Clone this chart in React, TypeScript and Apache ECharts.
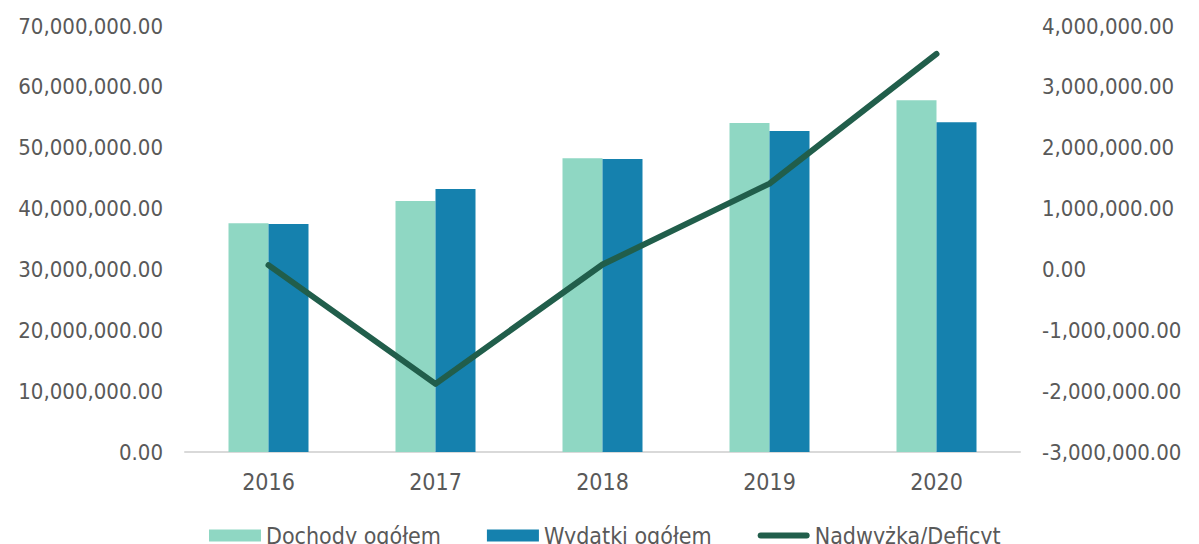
import React, { useEffect, useRef } from "react";
import * as echarts from "echarts";

const categories = ["2016", "2017", "2018", "2019", "2020"];
const dochody = [37580000, 41240000, 48250000, 54060000, 57800000];
const wydatki = [37460000, 43200000, 48150000, 52740000, 54200000];
const saldo = [70000, -1880000, 80000, 1410000, 3540000];
const seriesNames = ["Dochody ogółem", "Wydatki ogółem", "Nadwyżka/Deficyt"];

const FONT = "'DejaVu Sans Condensed', 'DejaVu Sans', sans-serif";

function fmt(v: number): string {
  const neg = v < 0;
  const a = Math.abs(v);
  const s = a.toFixed(2);
  const [i, d] = s.split(".");
  const withCommas = i.replace(/\B(?=(\d{3})+(?!\d))/g, ",");
  return (neg ? "-" : "") + withCommas + "." + d;
}

export default function App() {
  const ref = useRef<HTMLDivElement>(null);
  useEffect(() => {
    if (!ref.current) return;
    const chart = echarts.init(ref.current, null, { renderer: "svg" });
    chart.setOption({
      animation: false,
      textStyle: { fontFamily: FONT },
      grid: {
        left: 185,
        right: 179,
        top: 26,
        bottom: 92,
        containLabel: false,
        outerBoundsMode: "none",
      },
      legend: {
        left: 204,
        top: 519,
        itemWidth: 52,
        itemHeight: 12,
        itemGap: 46,
        textStyle: { fontFamily: FONT, fontSize: 23, color: "#595959" },
        data: [
          { name: seriesNames[0], icon: "rect" },
          { name: seriesNames[1], icon: "rect" },
          {
            name: seriesNames[2],
            icon: "path://M3,0 L49,0 A3,3 0 0 1 49,6 L3,6 A3,3 0 0 1 3,0 Z",
          },
        ],
      },
      xAxis: {
        type: "category",
        data: categories,
        axisTick: { show: false },
        axisLine: { lineStyle: { color: "#d9d9d9", width: 2 } },
        axisLabel: {
          color: "#595959",
          fontSize: 23,
          fontFamily: FONT,
          margin: 18,
        },
      },
      yAxis: [
        {
          type: "value",
          min: 0,
          max: 70000000,
          interval: 10000000,
          splitLine: { show: false },
          axisLine: { show: false },
          axisTick: { show: false },
          axisLabel: {
            color: "#595959",
            fontSize: 22,
            fontFamily: FONT,
            margin: 22,
            formatter: (v: number) => fmt(v),
          },
        },
        {
          type: "value",
          min: -3000000,
          max: 4000000,
          interval: 1000000,
          splitLine: { show: false },
          axisLine: { show: false },
          axisTick: { show: false },
          axisLabel: {
            color: "#595959",
            fontSize: 22,
            fontFamily: FONT,
            margin: 22,
            formatter: (v: number) => fmt(v),
          },
        },
      ],
      series: [
        {
          name: seriesNames[0],
          type: "bar",
          data: dochody,
          barWidth: 40,
          barGap: "0%",
          itemStyle: { color: "#8fd7c3" },
        },
        {
          name: seriesNames[1],
          type: "bar",
          data: wydatki,
          barWidth: 40,
          barGap: "0%",
          itemStyle: { color: "#1581ae" },
        },
        {
          name: seriesNames[2],
          type: "line",
          yAxisIndex: 1,
          data: saldo,
          symbol: "none",
          color: "#215e4b",
          lineStyle: { color: "#215e4b", width: 6, cap: "round", join: "round" },
          itemStyle: { color: "#215e4b" },
        },
      ],
    });
    return () => chart.dispose();
  }, []);
  return <div ref={ref} style={{ width: 1199, height: 544, position: "absolute", left: 0, top: 0 }} />;
}
